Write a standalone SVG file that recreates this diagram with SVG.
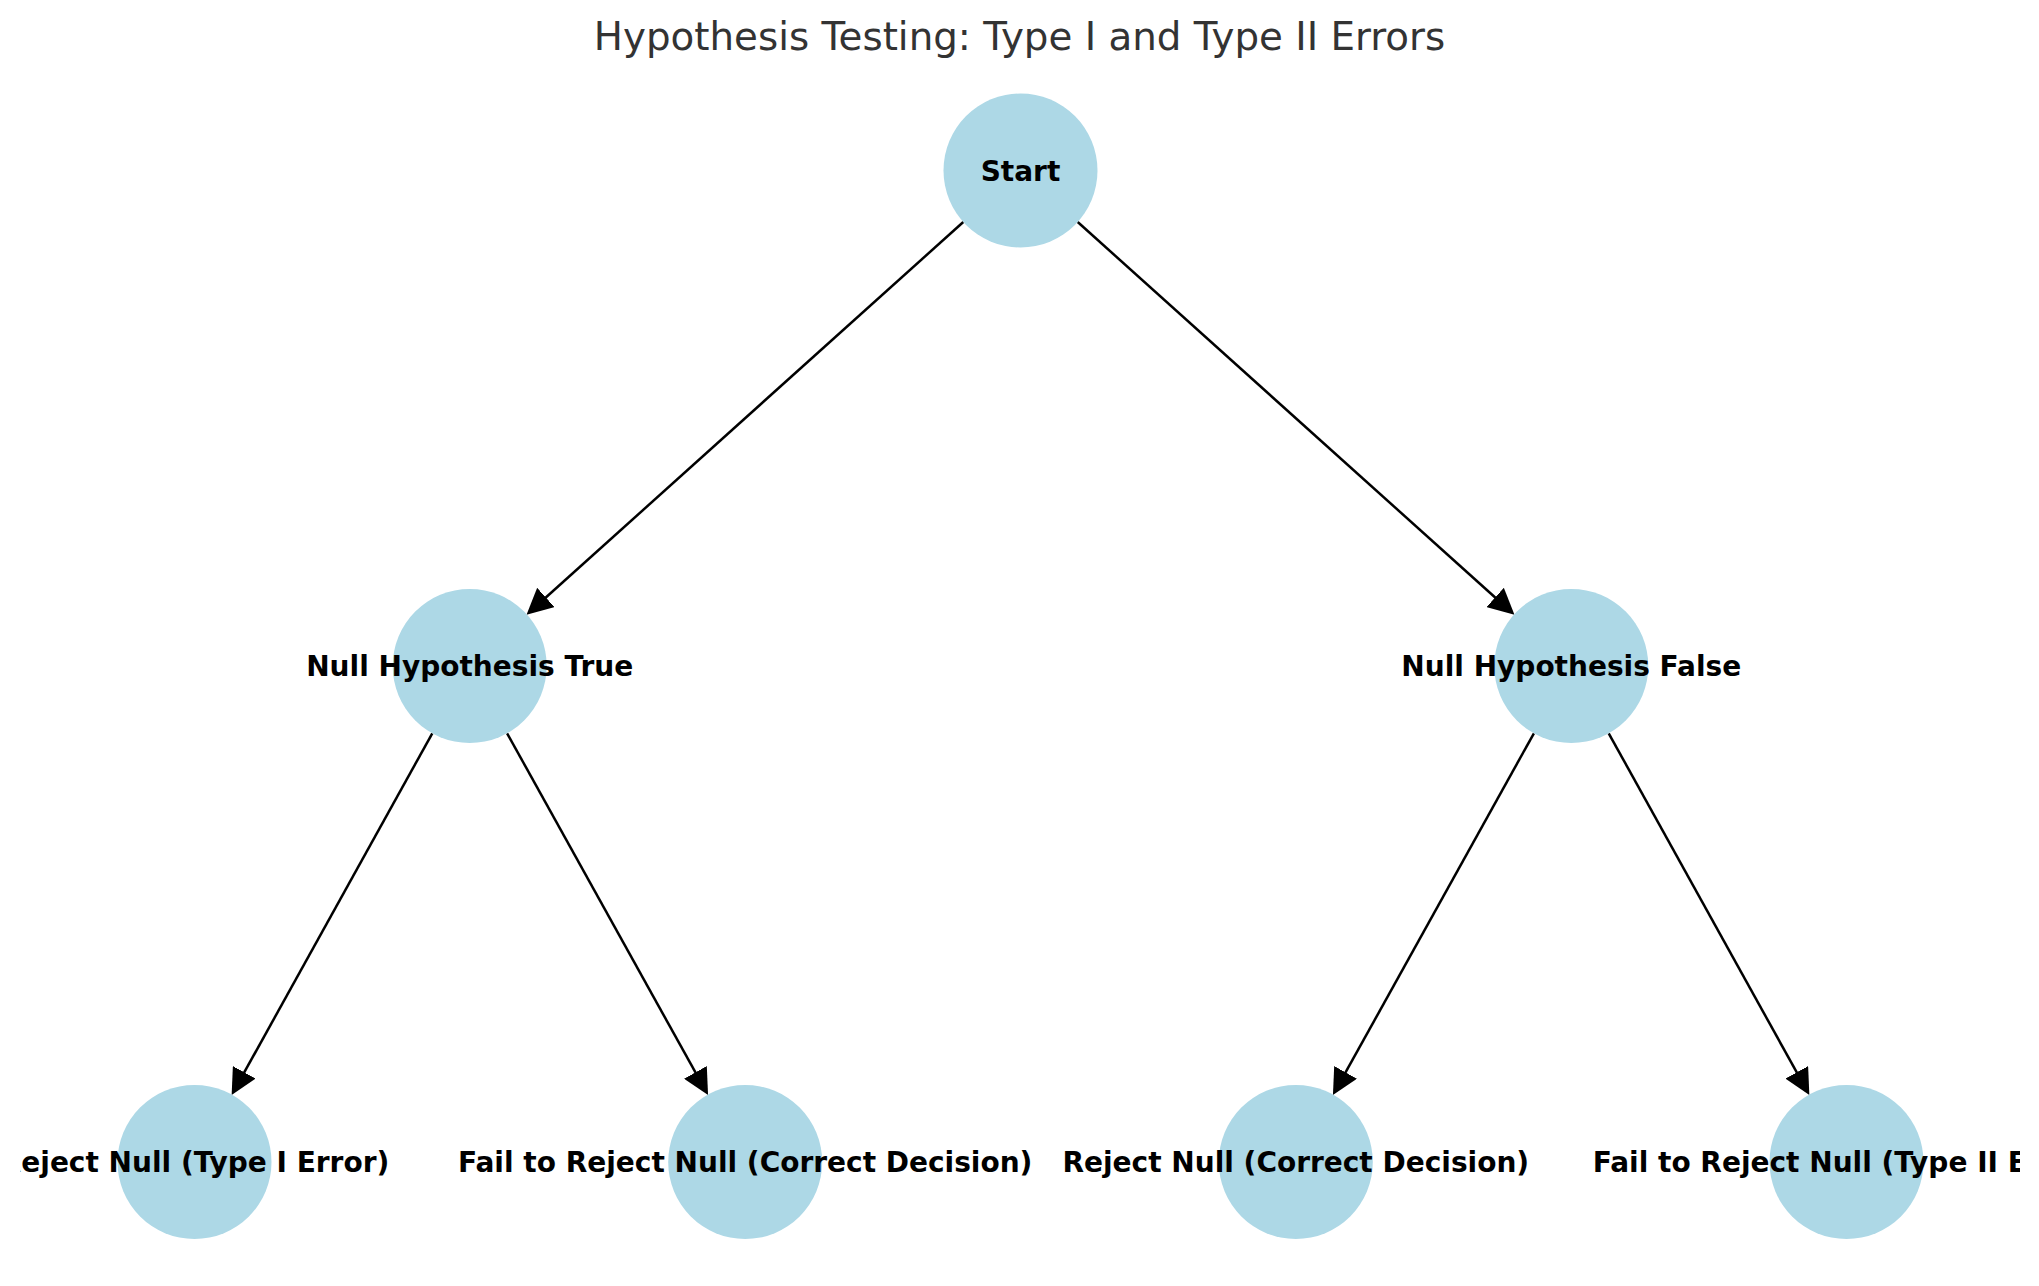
<svg xmlns="http://www.w3.org/2000/svg" width="2039" height="1286" viewBox="0 0 2039 1286">
<style>
.node circle{fill:#ADD8E6;stroke:none}
.node text{font-family:"DejaVu Sans","Liberation Sans",sans-serif;font-weight:bold;font-size:28px;fill:#000;text-anchor:middle}
.edge{stroke:#000;stroke-width:2.5;fill:none;marker-end:url(#arrow)}
.title{font-family:"DejaVu Sans","Liberation Sans",sans-serif;font-size:38.8px;fill:#333333;text-anchor:middle}
</style>
<defs>
<marker id="arrow" markerUnits="userSpaceOnUse" markerWidth="26" markerHeight="26" viewBox="0 0 25 25" refX="13" refY="12.5" orient="auto">
<path d="M0,0 L25,12.5 L0,25 Z" fill="#000"/>
</marker>
<clipPath id="axes"><rect x="20.5" y="0" width="1999.5" height="1286"/></clipPath>
</defs>
<rect width="2039" height="1286" fill="#fff"/>
<text class="title" x="1019.5" y="50">Hypothesis Testing: Type I and Type II Errors</text>
<g id="connectors">
<line class="edge" x1="963.3" y1="222.0" x2="535.8" y2="606.5"/>
<line class="edge" x1="1077.7" y1="222.0" x2="1505.2" y2="606.5"/>
<line class="edge" x1="432.3" y1="733.3" x2="237.7" y2="1084.2"/>
<line class="edge" x1="507.1" y1="733.3" x2="702.0" y2="1084.2"/>
<line class="edge" x1="1533.9" y1="733.3" x2="1339.0" y2="1084.2"/>
<line class="edge" x1="1608.7" y1="733.3" x2="1803.3" y2="1084.2"/>
</g>
<g clip-path="url(#axes)">
<g id="start" class="node"><circle cx="1020.5" cy="170.5" r="77"/><text x="1020.5" y="180.5">Start</text></g>
<g id="null-true" class="node"><circle cx="469.7" cy="666" r="77"/><text x="469.7" y="676">Null Hypothesis True</text></g>
<g id="null-false" class="node"><circle cx="1571.3" cy="666" r="77"/><text x="1571.3" y="676">Null Hypothesis False</text></g>
<g id="reject-type1" class="node"><circle cx="194.5" cy="1162" r="77"/><text x="194.5" y="1172">Reject Null (Type I Error)</text></g>
<g id="fail-correct" class="node"><circle cx="745.2" cy="1162" r="77"/><text x="745.2" y="1172">Fail to Reject Null (Correct Decision)</text></g>
<g id="reject-correct" class="node"><circle cx="1295.8" cy="1162" r="77"/><text x="1295.8" y="1172">Reject Null (Correct Decision)</text></g>
<g id="fail-type2" class="node"><circle cx="1846.5" cy="1162" r="77"/><text x="1846.5" y="1172">Fail to Reject Null (Type II Error)</text></g>
</g>
</svg>
